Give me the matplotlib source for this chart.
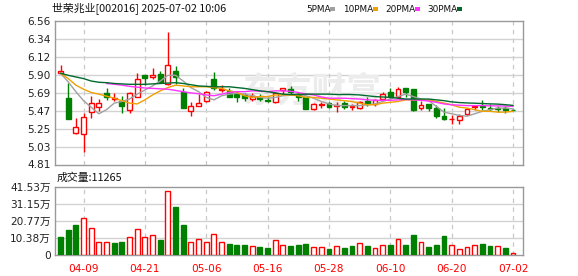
import numpy as np
import matplotlib
matplotlib.use('Agg')
import matplotlib.pyplot as plt
from matplotlib.patches import Rectangle

plt.rcParams['font.family'] = ['DejaVu Sans', 'Noto Sans CJK SC']

# 交易日
dates = ['04-03', '04-07', '04-08', '04-09', '04-10', '04-11', '04-14', '04-15', '04-16', '04-17',
         '04-18', '04-21', '04-22', '04-23', '04-24', '04-25', '04-28', '04-29', '04-30', '05-06',
         '05-07', '05-08', '05-09', '05-12', '05-13', '05-14', '05-15', '05-16', '05-19', '05-20',
         '05-21', '05-22', '05-23', '05-26', '05-27', '05-28', '05-29', '05-30', '06-03', '06-04',
         '06-05', '06-06', '06-09', '06-10', '06-11', '06-12', '06-13', '06-16', '06-17', '06-18',
         '06-19', '06-20', '06-23', '06-24', '06-25', '06-26', '06-27', '06-30', '07-01', '07-02']
tick_dates = ['04-09', '04-21', '05-06', '05-16', '05-28', '06-10', '06-20', '07-02']

opens = [5.93, 5.62, 5.20, 5.18, 5.45, 5.51, 5.68, 5.615, 5.58, 5.48,
         5.63, 5.90, 5.88, 5.92, 5.79, 5.955, 5.70, 5.46, 5.52, 5.58,
         5.86, 5.72, 5.71, 5.67, 5.66, 5.61, 5.64, 5.60, 5.57, 5.72,
         5.73, 5.67, 5.63, 5.49, 5.54, 5.56, 5.53, 5.56, 5.51, 5.50,
         5.58, 5.55, 5.61, 5.69, 5.64, 5.74, 5.73, 5.50, 5.55, 5.50,
         5.40, 5.36, 5.35, 5.43, 5.51, 5.53, 5.50, 5.50, 5.50, 5.48]
highs = [6.03, 5.80, 5.38, 5.44, 5.65, 5.61, 5.74, 5.68, 5.65, 5.70,
         5.93, 5.90, 5.99, 5.95, 6.43, 6.01, 5.74, 5.57, 5.67, 5.71,
         5.94, 5.78, 5.75, 5.69, 5.68, 5.68, 5.67, 5.64, 5.70, 5.75,
         5.77, 5.70, 5.64, 5.56, 5.57, 5.57, 5.57, 5.58, 5.55, 5.59,
         5.63, 5.61, 5.70, 5.74, 5.76, 5.74, 5.73, 5.58, 5.55, 5.54,
         5.50, 5.42, 5.43, 5.50, 5.53, 5.60, 5.55, 5.53, 5.53, 5.49]
lows = [5.91, 5.36, 5.18, 4.96, 5.38, 5.46, 5.60, 5.59, 5.44, 5.44,
        5.63, 5.78, 5.86, 5.80, 5.78, 5.79, 5.50, 5.40, 5.52, 5.57,
        5.72, 5.69, 5.63, 5.57, 5.58, 5.58, 5.58, 5.57, 5.56, 5.67,
        5.67, 5.58, 5.49, 5.48, 5.50, 5.50, 5.45, 5.49, 5.48, 5.49,
        5.53, 5.53, 5.59, 5.61, 5.63, 5.64, 5.46, 5.48, 5.46, 5.38,
        5.35, 5.31, 5.31, 5.42, 5.48, 5.48, 5.46, 5.45, 5.44, 5.47]
closes = [5.95, 5.36, 5.27, 5.39, 5.56, 5.56, 5.63, 5.625, 5.52, 5.68,
          5.86, 5.87, 5.90, 5.82, 6.03, 5.88, 5.50, 5.53, 5.56, 5.69,
          5.74, 5.73, 5.63, 5.63, 5.62, 5.65, 5.61, 5.58, 5.68, 5.75,
          5.69, 5.64, 5.49, 5.55, 5.55, 5.51, 5.54, 5.51, 5.52, 5.57,
          5.55, 5.60, 5.67, 5.64, 5.73, 5.69, 5.47, 5.54, 5.50, 5.40,
          5.36, 5.37, 5.40, 5.49, 5.53, 5.51, 5.49, 5.49, 5.48, 5.475]

ma5 = [5.925, 5.82, 5.70, 5.59, 5.51, 5.43, 5.48, 5.56, 5.58, 5.61,
       5.67, 5.72, 5.77, 5.83, 5.90, 5.90, 5.83, 5.75, 5.70, 5.63,
       5.60, 5.65, 5.67, 5.68, 5.67, 5.65, 5.63, 5.62, 5.63, 5.65,
       5.66, 5.67, 5.65, 5.62, 5.58, 5.55, 5.53, 5.53, 5.53, 5.53,
       5.54, 5.55, 5.58, 5.61, 5.64, 5.67, 5.64, 5.61, 5.59, 5.52,
       5.45, 5.43, 5.41, 5.40, 5.43, 5.46, 5.48, 5.50, 5.50, 5.49]
ma10 = [5.925, 5.86, 5.78, 5.73, 5.69, 5.67, 5.645, 5.62, 5.59, 5.56,
        5.55, 5.60, 5.66, 5.71, 5.75, 5.78, 5.77, 5.76, 5.76, 5.76,
        5.75, 5.74, 5.71, 5.69, 5.65, 5.63, 5.64, 5.64, 5.66, 5.66,
        5.66, 5.65, 5.63, 5.63, 5.62, 5.61, 5.60, 5.59, 5.58, 5.56,
        5.54, 5.54, 5.56, 5.57, 5.58, 5.60, 5.60, 5.60, 5.60, 5.58,
        5.56, 5.54, 5.51, 5.50, 5.48, 5.46, 5.46, 5.45, 5.45, 5.46]
ma20 = [np.nan] * 6 + [5.80, 5.79, 5.78, 5.765,
        5.755, 5.745, 5.74, 5.735, 5.73, 5.715, 5.70, 5.685, 5.675, 5.66,
        5.65, 5.67, 5.69, 5.70, 5.70, 5.71, 5.705, 5.70, 5.71, 5.71,
        5.705, 5.69, 5.67, 5.66, 5.635, 5.62, 5.62, 5.62, 5.615, 5.61,
        5.60, 5.595, 5.595, 5.595, 5.60, 5.605, 5.60, 5.595, 5.585, 5.57,
        5.55, 5.54, 5.535, 5.53, 5.53, 5.53, 5.527, 5.526, 5.524, 5.52]
ma30 = [5.925, 5.90, 5.88, 5.86, 5.83, 5.815, 5.81, 5.80, 5.795, 5.79,
        5.79, 5.79, 5.795, 5.80, 5.805, 5.81, 5.80, 5.785, 5.77, 5.765,
        5.76, 5.76, 5.76, 5.75, 5.74, 5.725, 5.71, 5.70, 5.685, 5.67,
        5.665, 5.665, 5.67, 5.67, 5.67, 5.67, 5.665, 5.665, 5.665, 5.66,
        5.65, 5.64, 5.635, 5.63, 5.62, 5.61, 5.61, 5.61, 5.61, 5.60,
        5.59, 5.575, 5.567, 5.562, 5.559, 5.555, 5.551, 5.548, 5.541, 5.532]

# 成交量 (万)
volumes = [10.95, 15.2, 18.24, 22.3, 16.2, 8.1, 8.1, 7.1, 7.7, 11.15,
           15.6, 10.74, 11.96, 9.12, 38.7, 29.2, 18.24, 7.7, 9.5, 8.1,
           13.0, 7.7, 6.5, 5.9, 5.9, 5.7, 4.9, 4.3, 8.9, 6.3,
           5.5, 6.1, 6.7, 4.7, 4.7, 3.65, 5.3, 4.3, 5.3, 7.1,
           5.3, 4.05, 5.9, 6.1, 9.5, 6.1, 12.2, 7.7, 4.9, 6.1,
           11.55, 5.9, 3.45, 4.7, 5.9, 6.7, 5.5, 5.5, 4.3, 1.1265]
vol_up = [0, 0, 0, 1, 1, 1, 1, 0, 0, 1,
          1, 1, 1, 0, 1, 0, 0, 1, 1, 1,
          1, 1, 0, 0, 0, 1, 0, 0, 1, 1,
          0, 0, 0, 1, 1, 0, 1, 0, 0, 1,
          0, 1, 1, 0, 1, 0, 0, 1, 0, 0,
          0, 1, 1, 1, 1, 0, 0, 1, 0, 1]

price_ticks = ['4.81', '5.03', '5.25', '5.47', '5.69', '5.90', '6.12', '6.34', '6.56']
vol_ticks = ['0', '10.38万', '20.77万', '31.15万', '41.53万']

RED = '#ff0000'
GREEN = '#008000'
GRID = '#d2d2d2'
FRAME = '#999999'
ma_colors = ['#a0a0a0', '#f0a000', '#ff33ff', '#006a2e']

x = np.arange(len(dates))
W = 0.64

fig = plt.figure(figsize=(5.78, 2.76), dpi=100)
ax = fig.add_axes([55 / 578, 1 - 164.5 / 276, 468 / 578, 143.2 / 276])
axv = fig.add_axes([55 / 578, 1 - 255 / 276, 468 / 578, 68.3 / 276])

tick_pos = [dates.index(d) for d in tick_dates]

for a in (ax, axv):
    for s in a.spines.values():
        s.set_color(FRAME)
        s.set_linewidth(1)
    a.set_xlim(-0.72, 60.3)
    a.tick_params(length=0, labelsize=7.6, colors='#222222', pad=3)
    for p in tick_pos:
        a.axvline(p, color='#c8c8c8', lw=0.9, ls=(0, (3.5, 3.5)), zorder=0)

# 价格
ymin, ymax = 4.81, 6.56
ax.set_ylim(ymin, ymax)
levels = np.linspace(ymin, ymax, 9)
ax.set_yticks(levels)
ax.set_yticklabels(price_ticks)
for lv in levels[1:-1]:
    ax.axhline(lv, color=GRID, lw=1, zorder=0)
ax.set_xticks([])

ax.text(0.55, 0.51, '东方财富', transform=ax.transAxes, ha='center', va='center',
        fontsize=25, color='#ececec', family=['Noto Sans CJK SC'], fontweight='bold',
        zorder=0.5)

for i in x:
    o, h, l, c = opens[i], highs[i], lows[i], closes[i]
    up = c >= o
    col = RED if up else GREEN
    lo_b, hi_b = min(o, c), max(o, c)
    ax.vlines(i, l, h, color=col, lw=1, zorder=2)
    ax.bar(i, max(hi_b - lo_b, 0.006), bottom=lo_b, width=W,
           facecolor='white' if up else GREEN, edgecolor=col, lw=1, zorder=3)

for ma, col in zip([ma5, ma10, ma20, ma30], ma_colors):
    ax.plot(x, ma, color=col, lw=1, zorder=4)

# 成交量
axv.set_ylim(0, 41.53)
vlev = np.linspace(0, 41.53, 5)
axv.set_yticks(vlev)
axv.set_yticklabels(vol_ticks)
for lv in vlev[1:-1]:
    axv.axhline(lv, color=GRID, lw=1, zorder=0)
for i in x:
    if vol_up[i]:
        axv.bar(i, volumes[i], width=W, facecolor='white', edgecolor=RED, lw=1, zorder=3)
    else:
        axv.bar(i, volumes[i], width=W, facecolor=GREEN, edgecolor=GREEN, lw=1, zorder=3)
axv.set_xticks(tick_pos)
axv.set_xticklabels(tick_dates)
axv.tick_params(axis='x', colors=RED, pad=6.5, labelsize=7.6)

# 标题与图例
fig.text(52 / 578, 1 - 9 / 276, '世荣兆业[002016] 2025-07-02 10:06', ha='left', va='center',
         fontsize=7.8, family=['Noto Sans CJK SC'], color='#111111')
fig.text(57 / 578, 1 - 177.5 / 276, '成交量:11265', ha='left', va='center',
         fontsize=7.8, family=['Noto Sans CJK SC'], color='#111111')

legend_items = [('5PMA', 306), ('10PMA', 343), ('20PMA', 385), ('30PMA', 427)]
sq_x = [330, 373, 415, 457]
for (name, lx), sx, col in zip(legend_items, sq_x, ma_colors):
    fig.text(lx / 578, 1 - 9 / 276, name, ha='left', va='center', fontsize=6.4, color='#111111')
    fig.patches.append(Rectangle((sx / 578, 1 - 10.5 / 276), 5 / 578, 3 / 276,
                                 transform=fig.transFigure, facecolor=col, edgecolor='none'))

fig.savefig('out.png', dpi=100)
